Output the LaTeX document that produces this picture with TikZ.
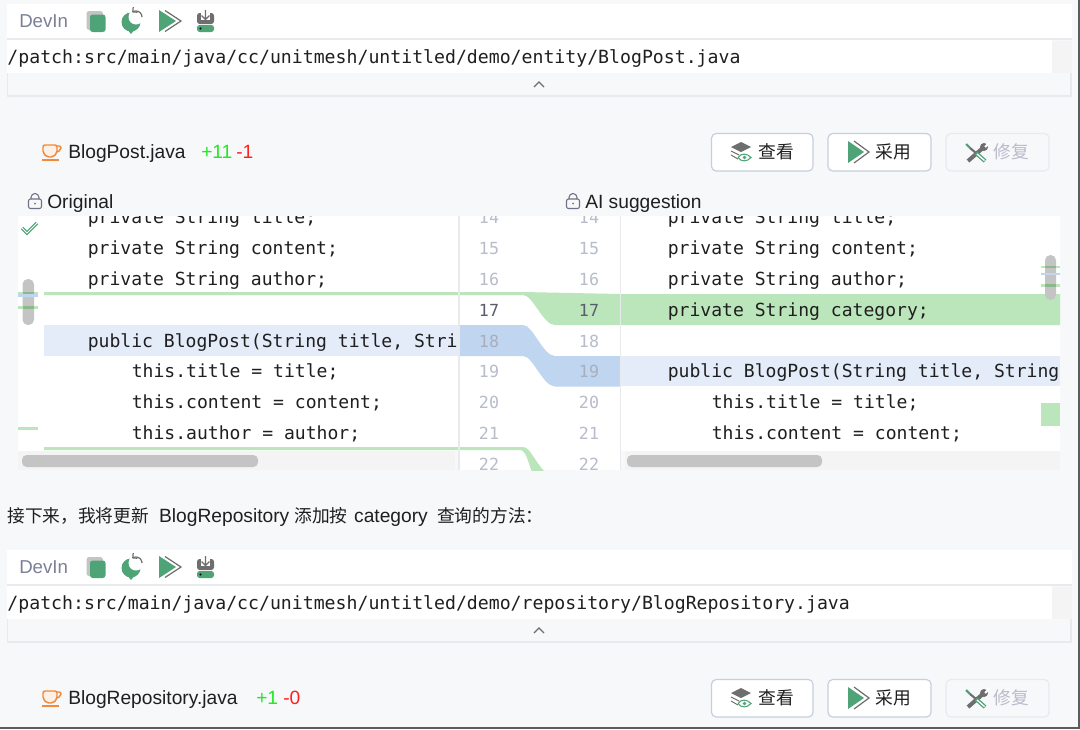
\documentclass[tikz,border=0pt]{standalone}
\usepackage{fontspec}
\usetikzlibrary{arrows.meta}
\setmainfont{Liberation Sans}
\setmonofont{DejaVu Sans Mono}
\newfontfamily\cjk{Noto Sans CJK SC}
\definecolor{pagebg}{HTML}{F7F8FA}
\definecolor{framegray}{HTML}{E8EAEE}
\definecolor{barline}{HTML}{C9CEDD}
\definecolor{darkbar}{HTML}{5C5C5C}
\definecolor{iconblue}{HTML}{C0D6F0}
\definecolor{rowblue}{HTML}{E4ECF9}
\definecolor{rowgreen}{HTML}{BBE5BB}
\definecolor{markgreen}{HTML}{8DB88D}
\definecolor{icongreen}{HTML}{4EA377}
\definecolor{icongray}{HTML}{6E6E6E}
\definecolor{thumbgray}{HTML}{C4C4C4}
\definecolor{trackgray}{HTML}{F4F4F4}
\definecolor{numgray}{HTML}{B8BCCB}
\definecolor{numblue}{HTML}{A9AEBD}
\definecolor{numdark}{HTML}{5A5D6B}
\definecolor{cuporange}{HTML}{F08A3C}
\definecolor{cupfill}{HTML}{FDF0E5}
\definecolor{lockgray}{HTML}{6E7287}
\definecolor{labelgray}{HTML}{7B8096}
\definecolor{addgreen}{HTML}{1FEA1F}
\definecolor{delred}{HTML}{FF2020}
\tikzset{
  txt/.style={inner sep=0pt, anchor=base west, text=black!88},
  sanstxt/.style={txt, font=\fontsize{14.4pt}{16pt}\selectfont},
  pathtxt/.style={txt, font=\ttfamily\fontsize{13.63pt}{16pt}\selectfont},
  codetxt/.style={txt, font=\ttfamily\fontsize{13.55pt}{16pt}\selectfont},
  numtxt/.style={inner sep=0pt, anchor=base, text=numgray, font=\ttfamily\fontsize{12.5pt}{14pt}\selectfont},
  cjktxt/.style={inner sep=0pt, anchor=base west, text=black!88, font=\cjk\fontsize{13.3pt}{16pt}\selectfont},
  button/.style={draw=barline, fill=white, line width=0.9pt, rounded corners=3.5pt},
}
\begin{document}
\begin{tikzpicture}[x=0.75pt, y=-0.75pt]
  \useasboundingbox (0,0) rectangle (1080,729);
  \fill[pagebg] (0,0) rectangle (1080,729);

  % Two tool windows:
  \foreach \dy/\fpath/\fname/\plusx/\plustxt/\minusx/\minustxt in {
      0/entity/BlogPost/201/+11/236/-1,
      546/repository/BlogRepository/256/+1/283/-0} {
    \begin{scope}[shift={(0,\dy)}]
      % Toolbar and path row:
      \fill[white] (7,4) rectangle (1072,38);
      \fill[framegray] (7,38) rectangle (1072,39.5);
      \fill[white] (7,40) rectangle (1052,73);
      \fill[trackgray] (1052,41) rectangle (1072,73);
      \draw[framegray, line width=0.9pt] (7.5,73) -- (7.5,96) -- (1071,96) -- (1071,73);
      \draw[icongray, line width=0.9pt] (534,87) -- (539,82) -- (544,87);
      \node[sanstxt, text=labelgray, font=\fontsize{14pt}{16pt}\selectfont] (devin\dy) at (19,27) {DevIn};
      \node[pathtxt] (path\dy) at (7.2,63) {/patch:src/main/java/cc/unitmesh/untitled/demo/\fpath/\fname.java};

      % Toolbar icons:
      \fill[thumbgray, rounded corners=2pt] (86.5,11) rectangle (103,30);
      \fill[icongreen, rounded corners=2pt] (90,14.5) rectangle (105.5,32);
      \fill[icongreen] (131,22) circle (9.5);
      \fill[icongreen] (127,29) -- (135,29) -- (131,34) -- cycle;
      \fill[white] (136,17) circle (7.5);
      \draw[icongray, line width=0.9pt, -{Straight Barb[length=2.5pt]}] (142,17) arc (0:-130:6);
      \fill[icongreen] (159,10) -- (176,21) -- (159,32) -- cycle;
      \draw[icongray, line width=0.9pt] (165,10.5) -- (181,21) -- (165,31.5);
      \fill[icongray, rounded corners=2pt] (197,13) rectangle (214,24);
      \fill[icongreen, rounded corners=2pt] (197,25) rectangle (214,32);
      \fill[black] (200.5,28.5) circle (1.2);
      \fill[white] (201,9) rectangle (210,20);
      \draw[icongray, line width=0.9pt] (205.5,10) -- (205.5,19.5) (201.5,15.5) -- (205.5,19.5) -- (209.5,15.5);

      % File row:
      \fill[cupfill] (43,145) -- (57,145) -- (57,153) -- (53,157) -- (47,157) -- (43,153) -- cycle;
      \draw[cuporange, line width=1.1pt, rounded corners=1.5pt] (43,145) -- (57,145) -- (57,153) -- (53,157) -- (47,157) -- (43,153) -- cycle;
      \draw[cuporange, line width=1.1pt, rounded corners=1.5pt] (57,146) -- (61,146) -- (61,150) -- (57,152);
      \draw[cuporange, line width=1.1pt] (42,160) -- (59,160);
      \node[sanstxt] (file\dy) at (68,158.5) {\fname.java};
      \node[sanstxt, text=addgreen] (plus\dy) at (\plusx,158.5) {\plustxt};
      \node[sanstxt, text=delred] (minus\dy) at (\minusx,158.5) {\minustxt};

      % Buttons:
      \draw[button] (711.5,133.5) rectangle (813,171);
      \draw[button] (828,133.5) rectangle (931,171);
      \draw[button, draw=framegray, fill=none] (946,133.5) rectangle (1049,171);
      \node[cjktxt] (view\dy) at (758,158.5) {查看};
      \node[cjktxt] (apply\dy) at (875,158.5) {采用};
      \node[cjktxt, text=numgray] (fix\dy) at (993,158.5) {修复};

      % Button icons:
      \fill[icongray] (741,142) -- (751,147) -- (741,152) -- (731,147) -- cycle;
      \draw[icongray, line width=0.7pt] (731,151) -- (739,155) (731,155) -- (738,159);
      \draw[icongreen, line width=0.8pt] (738,157.5) .. controls (741,153) and (747,153) .. (751,157.5) .. controls (747,162) and (741,162) .. (738,157.5);
      \fill[icongreen] (744.5,157.5) circle (1.8);
      \fill[icongreen] (848,141) -- (864,152) -- (848,163) -- cycle;
      \draw[icongray, line width=0.9pt] (854,141) -- (869,152) -- (854,163);
      \draw[icongray, line width=3pt] (968,161) -- (984,147);
      \fill[icongray] (984,147) circle (4);
      \draw[white, line width=1.6pt] (985,147) -- (990,142);
      \draw[icongreen, line width=1.6pt] (966,144) -- (970,148);
      \draw[icongray, line width=1.6pt] (970,148) -- (976,153);
      \draw[icongreen, line width=3pt] (976,153) -- (985,161);
      \draw[white, line width=1pt] (977,154) -- (984.5,160.5);
    \end{scope}
  }

  % Panel titles:
  \foreach \lockx/\titlex/\title in {35/47/Original, 573/585/AI suggestion} {
    \draw[lockgray, line width=0.8pt, rounded corners=1.5pt] (\lockx-6.5,199) rectangle (\lockx+6.5,208.5);
    \draw[lockgray, line width=0.8pt] (\lockx-4,199) -- (\lockx-4,197.5) arc (180:360:4) -- (\lockx+4,199);
    \fill[lockgray] (\lockx,203.5) circle (1);
    \node[sanstxt] (title\lockx) at (\titlex,208) {\title};
  }

  % Diff panels:
  \fill[white] (18,216) rectangle (1060,451);
  \fill[white] (458,216) rectangle (620,470);
  \fill[trackgray] (18,451) rectangle (455,470);
  \fill[trackgray] (624.5,451) rectangle (1060,470);

  % Changed rows:
  \fill[rowblue] (44,325) rectangle (459,356);
  \fill[rowblue] (620,356) rectangle (1060,386);
  \fill[iconblue] (459,325) -- (523,325) .. controls (533,325) and (543,356) .. (555,356) -- (620,356) -- (620,386.5) -- (555,386.5) .. controls (543,386.5) and (533,356) .. (523,356) -- (459,356) -- cycle;
  \fill[rowgreen] (44,292) -- (523,292) -- (620,294) -- (1060,294) -- (1060,325) -- (555,325) .. controls (543,325) and (533,295) .. (523,295) -- (44,295) -- cycle;
  \begin{scope}
    \clip (18,216) rectangle (1060,470);
    \fill[rowgreen] (44,447) -- (523,447) .. controls (530,447) and (535,462) .. (545,472) -- (532,472) .. controls (528,462) and (526,450) .. (520,450) -- (44,450) -- cycle;
  \end{scope}

  % Line numbers:
  \begin{scope}
    \clip (458,216) rectangle (620,470);
    \foreach \n/\y/\lcol/\rcol in {14/223/numgray/numgray, 15/254/numgray/numgray, 16/285/numgray/numgray,
        17/316/numdark/numdark, 18/347/numblue/numgray, 19/377.5/numgray/numblue,
        20/408.5/numgray/numgray, 21/439.5/numgray/numgray, 22/470.5/numgray/numgray} {
      \node[numtxt, text=\lcol] (lnum\n) at (489,\y) {\n};
      \node[numtxt, text=\rcol] (rnum\n) at (589,\y) {\n};
    }
  \end{scope}
  \fill[framegray] (458,216) rectangle (459.5,470);
  \fill[framegray] (620,216) rectangle (621,470);

  % Code, left side:
  \begin{scope}
    \clip (18,216) rectangle (457,451);
    \foreach \x/\y/\code in {87.5/223/{private String title;}, 87.5/254/{private String content;},
        87.5/285/{private String author;}, 87.5/347/{public BlogPost(String title, String},
        131.5/377.5/{this.title = title;}, 131.5/408.5/{this.content = content;}, 131.5/439.5/{this.author = author;}} {
      \node[codetxt] at (\x,\y) {\code};
    }
  \end{scope}

  % Code, right side:
  \begin{scope}
    \clip (621,216) rectangle (1060,451);
    \foreach \x/\y/\code in {667.5/223/{private String title;}, 667.5/254/{private String content;},
        667.5/285/{private String author;}, 667.5/316/{private String category;},
        667.5/377.5/{public BlogPost(String title, String}, 711.5/408.5/{this.title = title;}, 711.5/439.5/{this.content = content;}} {
      \node[codetxt] at (\x,\y) {\code};
    }
  \end{scope}

  % Scrollbars and markers:
  \fill[thumbgray, rounded corners=3.5pt] (22,455) rectangle (258,467);
  \fill[thumbgray, rounded corners=3.5pt] (627,455) rectangle (822,467);
  \fill[thumbgray, rounded corners=4pt] (22.5,279) rectangle (34,325);
  \fill[thumbgray, rounded corners=4pt] (1045,255) rectangle (1056,300);
  \foreach \y in {291.5, 306} {
    \fill[rowgreen] (18,\y) rectangle (38,\y+2.7);
    \fill[markgreen] (22.5,\y) rectangle (34,\y+2.7);
  }
  \fill[iconblue] (18,294.2) rectangle (38,296.5);
  \fill[rowgreen] (18,427) rectangle (38,429.5);
  \foreach \y in {265.5, 284} {
    \fill[rowgreen] (1041,\y) rectangle (1060,\y+2.5);
    \fill[markgreen] (1045,\y) rectangle (1056,\y+2.5);
  }
  \fill[iconblue] (1041,272.5) rectangle (1060,275);
  \fill[rowgreen] (1041,403) rectangle (1060,426);

  % Check mark:
  \draw[icongreen, line width=2.4pt] (22,228) -- (27,233) -- (37,223);
  \draw[white, line width=0.7pt] (22,228) -- (27,233) -- (37,223);

  % Sentence between the windows:
  \node[cjktxt] (sentence) at (7,522) {接下来，我将更新\hspace{7.5pt}\fontsize{14.4pt}{16pt}\rmfamily BlogRepository\hspace{3.75pt}{\cjk\fontsize{13.3pt}{16pt}\selectfont 添加按}\hspace{5pt}category\hspace{7pt}{\cjk\fontsize{13.3pt}{16pt}\selectfont 查询的方法：}};

  % Window edges:
  \fill[darkbar] (1077.5,0) rectangle (1080,729);
  \fill[darkbar] (0,727) rectangle (1080,729);
\end{tikzpicture}
\end{document}
